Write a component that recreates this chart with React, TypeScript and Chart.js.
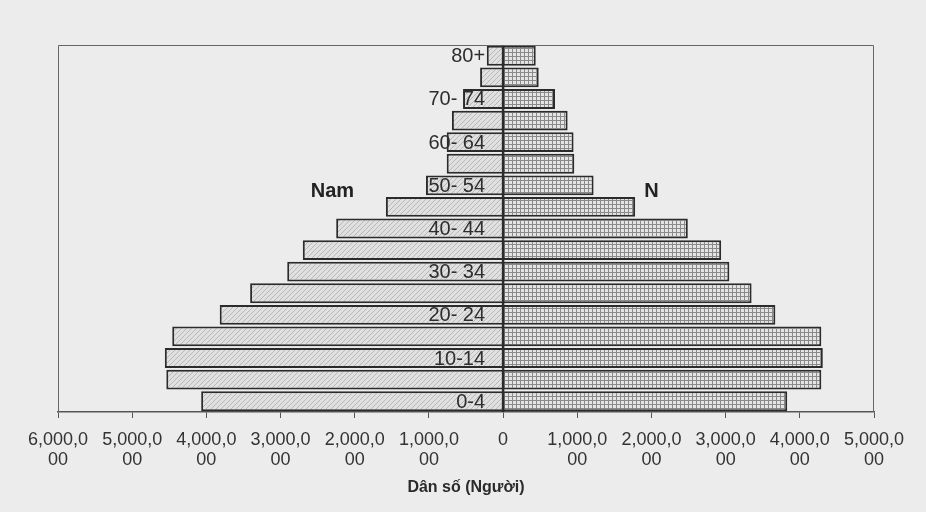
import React, { useEffect, useRef } from "react";
import { Chart, registerables } from "chart.js";

Chart.register(...registerables);

const ageGroups = [
  "0-4", "5-9", "10-14", "15-19", "20- 24", "25- 29", "30- 34", "35- 39",
  "40- 44", "45- 49", "50- 54", "55- 59", "60- 64", "65- 69", "70- 74", "75- 79", "80+",
];

// Nam (male), shown to the left as negative values (people)
const maleValues = [
  4070000, 4540000, 4560000, 4460000, 3820000, 3410000, 2910000, 2700000,
  2250000, 1580000, 1040000, 760000, 760000, 690000, 540000, 310000, 220000,
];

// Nữ (female), shown to the right
const femaleValues = [
  3830000, 4290000, 4310000, 4290000, 3670000, 3350000, 3050000, 2940000,
  2490000, 1780000, 1220000, 960000, 950000, 870000, 700000, 480000, 440000,
];

const xMin = -6000000;
const xMax = 5000000;
const xStep = 1000000;

const axisTitle = "Dân số (Người)";
const maleLabel = "Nam";
const femaleLabel = "N";

function formatTick(v: number): string | string[] {
  if (v === 0) return "0";
  const s = Math.abs(v).toLocaleString("en-US");
  return [s.slice(0, 7), s.slice(7)];
}

function makeMalePattern(ctx: CanvasRenderingContext2D) {
  const c = document.createElement("canvas");
  c.width = 5;
  c.height = 5;
  const g = c.getContext("2d")!;
  g.fillStyle = "#e0e0e0";
  g.fillRect(0, 0, 5, 5);
  g.strokeStyle = "#b8b8b8";
  g.lineWidth = 1;
  g.beginPath();
  g.moveTo(-1, 6);
  g.lineTo(6, -1);
  g.moveTo(-1, 1);
  g.lineTo(1, -1);
  g.moveTo(4, 6);
  g.lineTo(6, 4);
  g.stroke();
  return ctx.createPattern(c, "repeat")!;
}

function makeFemalePattern(ctx: CanvasRenderingContext2D) {
  const c = document.createElement("canvas");
  c.width = 4;
  c.height = 4;
  const g = c.getContext("2d")!;
  g.fillStyle = "#e4e4e4";
  g.fillRect(0, 0, 4, 4);
  g.fillStyle = "#8a8a8a";
  g.fillRect(0, 0, 4, 1);
  g.fillRect(0, 0, 1, 4);
  return ctx.createPattern(c, "repeat")!;
}

const decorPlugin = {
  id: "decor",
  beforeDraw(chart: any) {
    const { ctx, width, height } = chart;
    ctx.save();
    ctx.fillStyle = "#ececec";
    ctx.fillRect(0, 0, width, height);
    ctx.restore();
  },
  afterDatasetsDraw(chart: any) {
    const { ctx, chartArea } = chart;
    const xs = chart.scales.x;
    const ys = chart.scales.y;
    ctx.save();
    // frame
    ctx.strokeStyle = "#666";
    ctx.lineWidth = 1;
    ctx.beginPath();
    ctx.moveTo(chartArea.left + 0.5, chartArea.bottom);
    ctx.lineTo(chartArea.left + 0.5, chartArea.top + 0.5);
    ctx.lineTo(chartArea.right - 0.5, chartArea.top + 0.5);
    ctx.lineTo(chartArea.right - 0.5, chartArea.bottom);
    ctx.stroke();

    // zero line
    const zeroX = xs.getPixelForValue(0);
    ctx.strokeStyle = "#2b2b2b";
    ctx.lineWidth = 2.5;
    ctx.beginPath();
    ctx.moveTo(zeroX, ys.getPixelForValue(16) - 10);
    ctx.lineTo(zeroX, chartArea.bottom);
    ctx.stroke();

    // category labels beside the zero line
    ctx.fillStyle = "#2e2e2e";
    ctx.font = "20px 'Liberation Sans', Arial, sans-serif";
    ctx.textAlign = "right";
    ctx.textBaseline = "middle";
    ageGroups.forEach((lab, i) => {
      if (i % 2 !== 0) return;
      ctx.fillText(lab, zeroX - 18, ys.getPixelForValue(i) + 1);
    });

    // Nam / N labels
    ctx.font = "bold 20px 'Liberation Sans', Arial, sans-serif";
    ctx.textAlign = "center";
    ctx.fillStyle = "#222";
    const ly = ys.getPixelForValue(10) + 6;
    ctx.fillText(maleLabel, xs.getPixelForValue(-2300000), ly);
    ctx.fillText(femaleLabel, xs.getPixelForValue(2000000), ly);

    // axis title
    ctx.font = "bold 16px 'Liberation Sans', Arial, sans-serif";
    ctx.fillStyle = "#2a2a2a";
    ctx.fillText(axisTitle, (chartArea.left + chartArea.right) / 2, chartArea.bottom + 76);
    ctx.restore();
  },
};

export default function App() {
  const ref = useRef<HTMLCanvasElement | null>(null);

  useEffect(() => {
    document.body.style.margin = "0";
    const canvas = ref.current!;
    const ctx = canvas.getContext("2d")!;
    const malePat = makeMalePattern(ctx);
    const femalePat = makeFemalePattern(ctx);

    const chart = new Chart(ctx, {
      type: "bar",
      data: {
        labels: ageGroups,
        datasets: [
          {
            label: maleLabel,
            data: maleValues.map((v) => -v),
            backgroundColor: malePat as any,
            borderColor: "#2b2b2b",
            borderWidth: 2,
            borderSkipped: "start",
            barPercentage: 0.92,
            categoryPercentage: 1,
          },
          {
            label: femaleLabel,
            data: femaleValues,
            backgroundColor: femalePat as any,
            borderColor: "#2b2b2b",
            borderWidth: 2,
            borderSkipped: "start",
            barPercentage: 0.92,
            categoryPercentage: 1,
          },
        ],
      },
      options: {
        indexAxis: "y",
        animation: false,
        responsive: false,
        maintainAspectRatio: false,
        layout: { padding: { left: 58, right: 52, top: 45, bottom: 0 } },
        plugins: {
          legend: { display: false },
          tooltip: { enabled: false },
          title: { display: false },
        },
        scales: {
          x: {
            type: "linear",
            stacked: true,
            min: xMin,
            max: xMax,
            afterFit: (scale: any) => {
              scale.height = 100;
            },
            ticks: {
              stepSize: xStep,
              autoSkip: false,
              maxRotation: 0,
              padding: 12,
              color: "#333",
              font: { family: "'Liberation Sans', Arial, sans-serif", size: 18, lineHeight: 1.1 },
              callback: (v: any) => formatTick(Number(v)),
            },
            grid: {
              display: true,
              drawOnChartArea: false,
              drawTicks: true,
              tickLength: 6,
              color: "#555",
            },
            border: { display: true, color: "#555", width: 1.5 },
          },
          y: {
            type: "category",
            stacked: true,
            reverse: true,
            display: false,
          },
        },
      },
      plugins: [decorPlugin],
    });

    return () => chart.destroy();
  }, []);

  return <canvas ref={ref} width={926} height={512} style={{ display: "block" }} />;
}
